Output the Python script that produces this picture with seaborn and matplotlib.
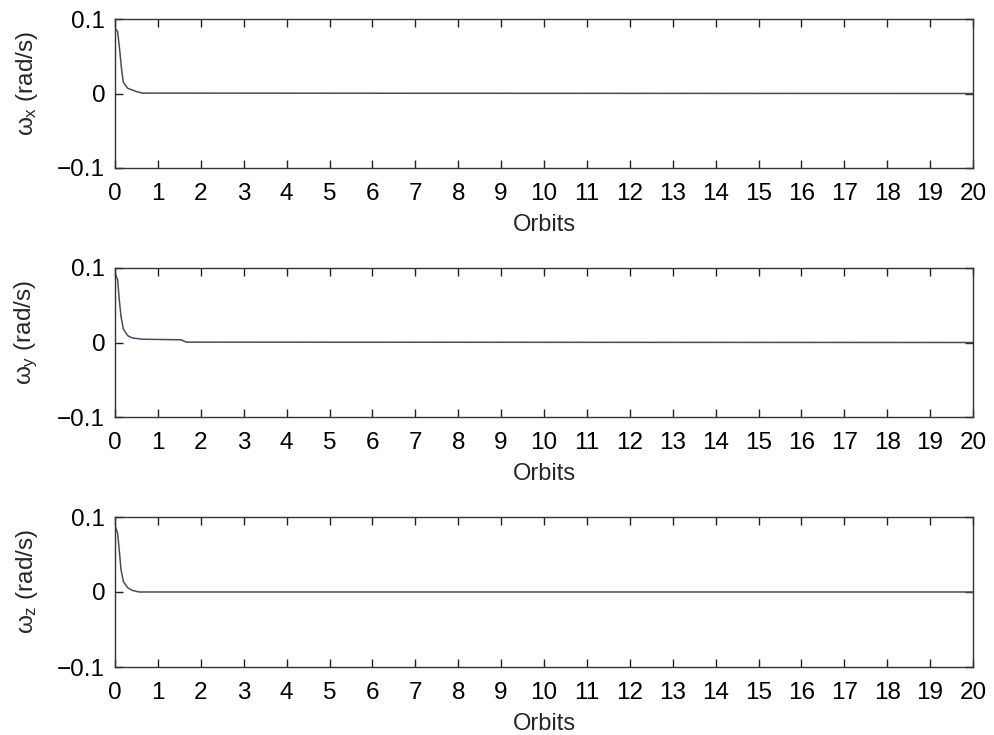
import numpy as np
import pandas as pd
import matplotlib
matplotlib.use("Agg")
import matplotlib.pyplot as plt
import seaborn as sns

# Data (orbits vs angular rate, rad/s)
orbits_x = [0, 0.062, 0.117, 0.156, 0.194, 0.296, 0.41, 0.53, 0.65, 20]
wx = [0.0877, 0.083, 0.054, 0.031, 0.015, 0.007, 0.0045, 0.002, 0.0005, 0.0]

orbits_y = [0, 0.062, 0.10, 0.14, 0.195, 0.30, 0.41, 0.65, 1.54, 1.66, 20]
wy = [0.093, 0.084, 0.057, 0.035, 0.018, 0.009, 0.006, 0.0044, 0.0036, 0.0005, 0.0]

orbits_z = [0, 0.062, 0.10, 0.14, 0.195, 0.30, 0.41, 0.57, 20]
wz = [0.089, 0.078, 0.055, 0.030, 0.014, 0.0055, 0.002, 0.0, 0.0]

ylabels = ["x", "y", "z"]
xticks = list(range(0, 21))
yticks = [-0.1, 0, 0.1]
ytick_labels = ["\u22120.1", "0", "0.1"]

sns.set_theme(style="white")
plt.rcParams['font.family'] = ['Liberation Sans', 'DejaVu Sans']
plt.rcParams['mathtext.fontset'] = 'custom'
plt.rcParams['mathtext.rm'] = 'Liberation Sans'
plt.rcParams['mathtext.it'] = 'Liberation Sans'
plt.rcParams['mathtext.sf'] = 'Liberation Sans'

fig = plt.figure(figsize=(9.95, 7.35), dpi=100)
W, H = 995, 735
boxes = [(19, 168), (268, 417), (517, 667)]
left, right = 115, 973
series = [(orbits_x, wx), (orbits_y, wy), (orbits_z, wz)]

for (top, bot), (xs, ys), lab in zip(boxes, series, ylabels):
    ax = fig.add_axes([left / W, 1 - bot / H, (right - left) / W, (bot - top) / H])
    df = pd.DataFrame({"Orbits": xs, "w": ys})
    sns.lineplot(data=df, x="Orbits", y="w", ax=ax, color="#4a4a5e", linewidth=1.1)
    ax.set_xlim(0, 20)
    ax.set_ylim(-0.1, 0.1)
    ax.set_xticks(xticks)
    ax.set_xticklabels([str(t) for t in xticks])
    ax.set_yticks(yticks)
    ax.set_yticklabels(ytick_labels)
    ax.tick_params(axis="both", direction="in", length=6, width=1, color="#222222",
                   labelsize=17.5, top=True, right=True, bottom=True, left=True,
                   labelcolor="black")
    ax.tick_params(axis="x", pad=11)
    ax.tick_params(axis="y", pad=7)
    for s in ax.spines.values():
        s.set_color("#333333")
        s.set_linewidth(1.0)
        s.set_visible(True)
    ax.set_xlabel("Orbits", fontsize=17, labelpad=6)
    ax.set_ylabel(r"$\omega_{\mathrm{%s}}$ (rad/s)" % lab, fontsize=17.5)
    ax.yaxis.set_label_coords(-0.087, 0.57)

fig.savefig("out.png", dpi=100, facecolor="white")
